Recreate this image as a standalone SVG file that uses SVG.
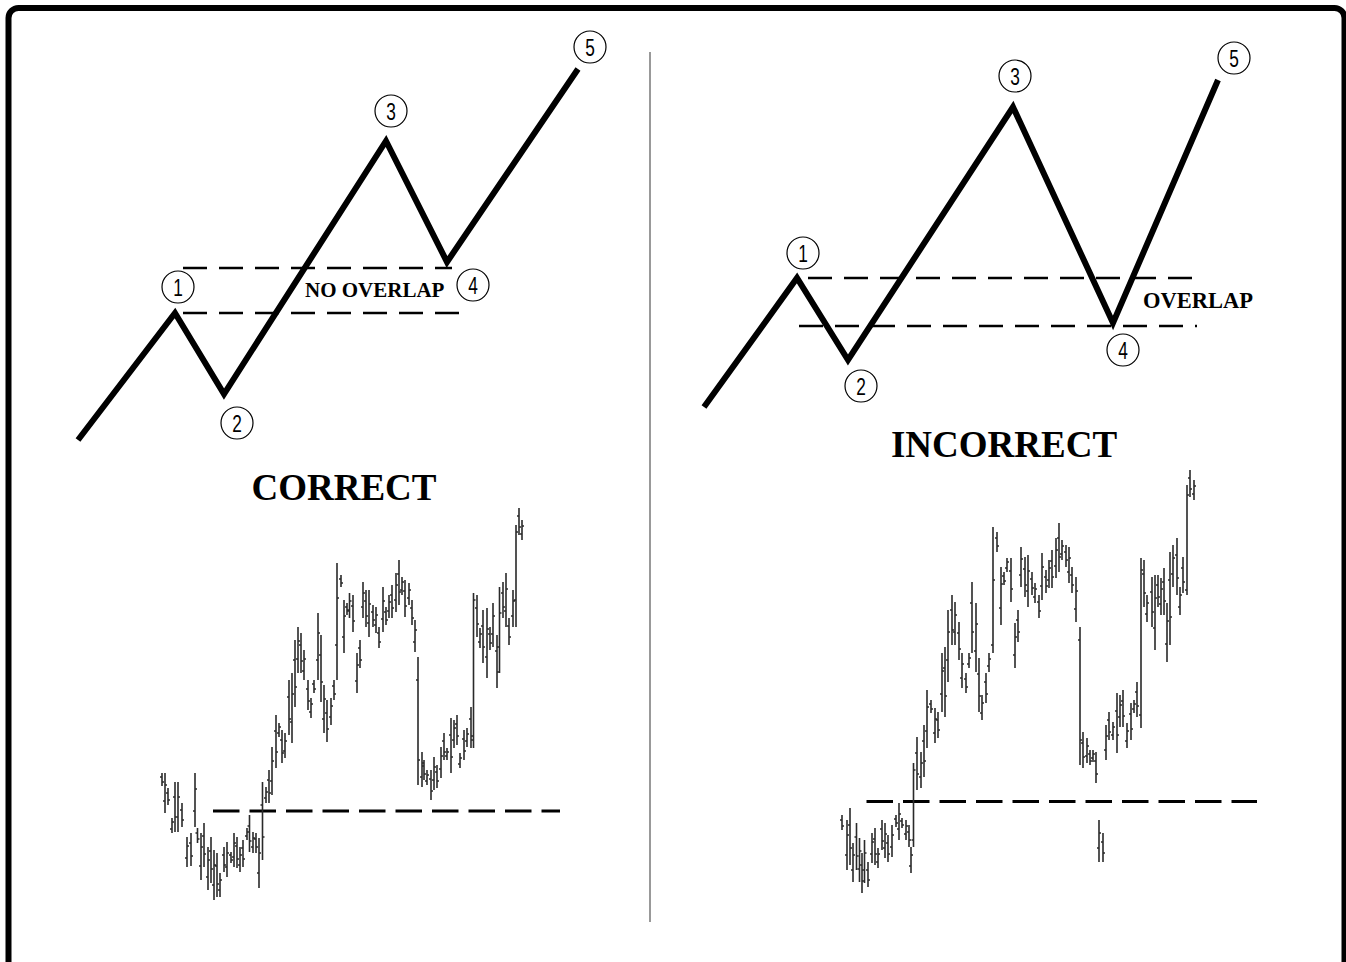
<svg xmlns="http://www.w3.org/2000/svg" width="1346" height="962" viewBox="0 0 1346 962">
<style>
.wave{fill:none;stroke:#000;stroke-width:6;stroke-linejoin:miter;stroke-linecap:butt}
.dash{fill:none;stroke:#000;stroke-width:2.5;stroke-dasharray:24 12}
.bdash{fill:none;stroke:#000;stroke-width:3.2;stroke-dasharray:26.5 10}
.circ{fill:#fff;stroke:#000;stroke-width:1.2}
.num{font-family:"Liberation Sans Narrow","Liberation Sans",sans-serif;font-size:24px;text-anchor:middle;fill:#000}
.lab{font-family:"Liberation Serif","Times New Roman",serif;font-weight:bold;fill:#000}
.bars{fill:none;stroke:#2a2a2a;stroke-width:1.6}
</style>
<rect x="8.5" y="8" width="1336" height="1000" rx="10" ry="10" fill="#fff" stroke="#000" stroke-width="6"/>
<line x1="650" y1="52" x2="650" y2="922" stroke="#555" stroke-width="1.2"/>

<g id="left-wave">
<path class="dash" d="M183 268H452M183 313H460"/>
<polyline class="wave" points="78,440 175,313 224,394 386,141 447,262 578,69"/>
<text class="lab" x="305" y="297" font-size="21">NO OVERLAP</text>
<text class="lab" x="344" y="500" font-size="37" text-anchor="middle">CORRECT</text>
</g>
<g id="left-labels">
<g id="l1"><circle class="circ" cx="178" cy="287" r="16"/><text class="num" transform="translate(178 295.5) scale(0.72 1)">1</text></g>
<g id="l2"><circle class="circ" cx="237" cy="423" r="16"/><text class="num" transform="translate(237 431.5) scale(0.72 1)">2</text></g>
<g id="l3"><circle class="circ" cx="391" cy="111" r="16"/><text class="num" transform="translate(391 119.5) scale(0.72 1)">3</text></g>
<g id="l4"><circle class="circ" cx="473" cy="285" r="16"/><text class="num" transform="translate(473 293.5) scale(0.72 1)">4</text></g>
<g id="l5"><circle class="circ" cx="590" cy="47" r="16"/><text class="num" transform="translate(590 55.5) scale(0.72 1)">5</text></g>
</g>

<g id="right-wave">
<path class="dash" d="M808 278H1197M799 326H1197"/>
<polyline class="wave" points="704,407 797,278 848,360 1013,107 1113,323 1218,80"/>
<text class="lab" x="1143" y="308" font-size="22.5">OVERLAP</text>
<text class="lab" x="1004" y="457" font-size="37" text-anchor="middle">INCORRECT</text>
</g>
<g id="right-labels">
<g id="r1"><circle class="circ" cx="803" cy="253" r="16"/><text class="num" transform="translate(803 261.5) scale(0.72 1)">1</text></g>
<g id="r2"><circle class="circ" cx="861" cy="386" r="16"/><text class="num" transform="translate(861 394.5) scale(0.72 1)">2</text></g>
<g id="r3"><circle class="circ" cx="1015" cy="76" r="16"/><text class="num" transform="translate(1015 84.5) scale(0.72 1)">3</text></g>
<g id="r4"><circle class="circ" cx="1123" cy="350" r="16"/><text class="num" transform="translate(1123 358.5) scale(0.72 1)">4</text></g>
<g id="r5"><circle class="circ" cx="1234" cy="58" r="16"/><text class="num" transform="translate(1234 66.5) scale(0.72 1)">5</text></g>
</g>

<g id="left-chart">
<path class="bdash" d="M213 811H560"/>
<path class="bars" d="M162 773V786M160 777h2M162 782h2
M165 773V813M163 801h2M165 785h2
M168 788V805M166 793h2M168 800h2
M172 818V833M170 829h2M172 822h2
M175 782V832M173 797h2M175 817h2
M178 782V832M176 817h2M178 797h2
M182 803V827M180 810h2M182 820h2
M187 837V867M185 858h2M187 846h2
M191 833V866M189 843h2M191 856h2
M195 773V827M193 811h2M195 789h2
M197.5 828V843M195.5 833h2M197.5 839h2
M201 833V880M199 866h2M201 847h2
M204 823V867M202 836h2M204 854h2
M208 847V890M206 877h2M208 860h2
M211 837V883M209 851h2M211 869h2
M214 850V900M212 885h2M214 865h2
M217 853V897M215 866h2M217 884h2
M220 873V897M218 890h2M220 880h2
M224 847V872M222 855h2M224 865h2
M227 842V877M225 867h2M227 853h2
M231 852V863M229 855h2M231 860h2
M234 833V867M232 857h2M234 843h2
M237 837V868M235 846h2M237 859h2
M240 847V872M238 865h2M240 855h2
M243 840V867M241 848h2M243 859h2
M247 828V840M245 836h2M247 832h2
M249.5 815V852M247.5 826h2M249.5 841h2
M253 832V853M251 847h2M253 838h2
M256 833V853M254 839h2M256 847h2
M259 838V888M257 873h2M259 853h2
M262.5 782V860M260.5 805h2M262.5 837h2
M266 787V803M264 798h2M266 792h2
M269 770V803M267 780h2M269 793h2
M272 747V795M270 781h2M272 761h2
M276 715V768M274 731h2M276 752h2
M279 723V737M277 733h2M279 727h2
M282 730V763M280 740h2M282 753h2
M285 733V758M283 751h2M285 741h2
M289 680V735M287 697h2M289 719h2
M292 673V743M290 722h2M292 694h2
M295 640V707M293 660h2M295 687h2
M298 627V673M296 659h2M298 641h2
M301 633V673M299 645h2M301 661h2
M304 650V680M302 671h2M304 659h2
M308 680V710M306 689h2M308 701h2
M311 698V718M309 712h2M311 704h2
M314 680V693M312 684h2M314 689h2
M318 613V680M316 660h2M318 633h2
M321 635V702M319 655h2M321 682h2
M324 685V733M322 719h2M324 699h2
M327 700V742M325 713h2M327 729h2
M331 698V725M329 717h2M331 706h2
M334 680V700M332 686h2M334 694h2
M337 563V680M335 645h2M337 598h2
M341 575V587M339 579h2M341 583h2
M344 600V653M342 637h2M344 616h2
M347 603V615M345 607h2M347 611h2
M349.5 593V618M347.5 610h2M349.5 601h2
M353 595V632M351 606h2M353 621h2
M357 653V693M355 681h2M357 665h2
M360 640V668M358 648h2M360 660h2
M363 582V618M361 607h2M363 593h2
M366 590V627M364 601h2M366 616h2
M369 590V637M367 623h2M369 604h2
M373 605V627M371 612h2M373 620h2
M376 607V633M374 625h2M376 615h2
M379 627V648M377 633h2M379 642h2
M383 587V632M381 619h2M383 601h2
M386 607V625M384 612h2M386 620h2
M389 595V618M387 611h2M389 602h2
M392 585V618M390 595h2M392 608h2
M396 573V612M394 600h2M396 585h2
M399 560V605M397 574h2M399 592h2
M402 577V595M400 590h2M402 582h2
M405 580V617M403 591h2M405 606h2
M409 583V605M407 598h2M409 590h2
M412 600V625M410 608h2M412 618h2
M415 620V652M413 642h2M415 630h2
M418 657V785M416 680h2M418 760h2
M422 752V787M420 777h2M422 763h2
M424 760V780M422 766h2M424 774h2
M427 770V785M425 781h2M427 775h2
M431 770V800M429 779h2M431 791h2
M434 757V790M432 780h2M434 767h2
M437 765V788M435 772h2M437 781h2
M441 747V778M439 769h2M441 756h2
M444 733V760M442 741h2M444 752h2
M447 748V760M445 756h2M447 752h2
M451 718V773M449 735h2M451 757h2
M454 720V748M452 740h2M454 728h2
M457 715V745M455 724h2M457 736h2
M460 753V768M458 764h2M460 758h2
M464 730V760M462 739h2M464 751h2
M467 728V747M465 741h2M467 734h2
M471 707V748M469 719h2M471 736h2
M473.5 593V748M471.5 740h2M473.5 600h2
M477 595V637M475 608h2M477 624h2
M480 628V648M478 642h2M480 634h2
M483 610V663M481 626h2M483 647h2
M487 608V678M485 657h2M487 629h2
M490 627V650M488 634h2M490 643h2
M493 603V647M491 634h2M493 616h2
M497 635V688M495 651h2M497 672h2
M499.5 587V673M497.5 647h2M499.5 613h2
M503 582V618M501 593h2M503 607h2
M506 573V627M504 611h2M506 589h2
M509 618V645M507 626h2M509 637h2
M513 590V627M511 616h2M513 601h2
M516 525V627M514 600h2M516 532h2
M519 508V535M517 516h2M519 527h2
M522 520V540M520 534h2M522 526h2"/>
</g>

<g id="right-chart">
<path class="bdash" d="M866.5 801.5H1257"/>
<path class="bars" d="M842 815V830M840 820h2M842 826h2
M847 820V870M845 855h2M847 835h2
M850 808V865M848 825h2M850 848h2
M853 843V882M851 870h2M853 855h2
M856.5 823V870M854.5 837h2M856.5 856h2
M859.5 838V882M857.5 869h2M859.5 851h2
M862 853V893M860 865h2M862 881h2
M864.5 840V883M862.5 870h2M864.5 853h2
M868 862V887M866 870h2M868 880h2
M872 833V863M870 854h2M872 842h2
M875 828V865M873 839h2M875 854h2
M878 848V868M876 862h2M878 854h2
M882 820V850M880 829h2M882 841h2
M885 823V858M883 848h2M885 834h2
M888 835V862M886 843h2M888 854h2
M892 825V857M890 847h2M892 835h2
M896 815V827M894 819h2M896 823h2
M899 803V840M897 829h2M899 814h2
M902 818V828M900 821h2M902 825h2
M906 820V840M904 834h2M906 826h2
M909 825V847M907 832h2M909 840h2
M911 847V873M909 866h2M911 855h2
M913.5 763V847M911.5 840h2M913.5 770h2
M917 737V790M915 753h2M917 774h2
M921 752V788M919 777h2M921 763h2
M924 725V777M922 741h2M924 761h2
M927 690V748M925 731h2M927 707h2
M931 700V713M929 704h2M931 709h2
M935 708V743M933 733h2M935 719h2
M938 712V738M936 720h2M938 730h2
M942 653V712M940 694h2M942 671h2
M945 647V717M943 668h2M945 696h2
M948 610V682M946 660h2M948 632h2
M952 595V645M950 610h2M952 630h2
M955 602V645M953 632h2M955 615h2
M959 622V660M957 633h2M959 649h2
M962 653V688M960 678h2M962 664h2
M966 673V693M964 679h2M966 687h2
M969 653V668M967 664h2M969 658h2
M972 582V653M970 603h2M972 632h2
M976 603V672M974 651h2M976 624h2
M979 658V712M977 674h2M979 696h2
M982 695V720M980 713h2M982 703h2
M986 673V703M984 682h2M986 694h2
M989 653V672M987 666h2M989 659h2
M993 527V653M991 645h2M993 580h2
M997 532V552M995 538h2M997 546h2
M1001 567V625M999 608h2M1001 584h2
M1004 572V585M1002 576h2M1004 581h2
M1007 558V572M1005 568h2M1007 562h2
M1011 558V602M1009 571h2M1011 589h2
M1015 623V668M1013 655h2M1015 637h2
M1018 610V642M1016 620h2M1018 632h2
M1021 547V587M1019 575h2M1021 559h2
M1025 557V597M1023 569h2M1025 585h2
M1028 555V607M1026 591h2M1028 571h2
M1032 572V595M1030 579h2M1032 588h2
M1035 583V603M1033 597h2M1035 589h2
M1039 595V618M1037 602h2M1039 611h2
M1042 553V600M1040 586h2M1042 567h2
M1046 570V593M1044 577h2M1046 586h2
M1049 560V588M1047 580h2M1049 568h2
M1052 550V588M1050 561h2M1052 577h2
M1056 538V578M1054 566h2M1056 550h2
M1059 523V572M1057 538h2M1059 557h2
M1062 540V560M1060 554h2M1062 546h2
M1066 545V567M1064 552h2M1066 560h2
M1069 547V583M1067 572h2M1069 558h2
M1072 567V593M1070 575h2M1072 585h2
M1076 577V622M1074 609h2M1076 591h2
M1080 627V765M1078 640h2M1080 740h2
M1083 732V768M1081 743h2M1083 757h2
M1087 738V763M1085 756h2M1087 746h2
M1090 750V765M1088 754h2M1090 761h2
M1093 750V762M1091 758h2M1093 754h2
M1096 752V783M1094 761h2M1096 774h2
M1099 820V862M1097 848h2M1099 833h2
M1103 833V862M1101 842h2M1103 853h2
M1106 725V760M1104 750h2M1106 736h2
M1109 712V740M1107 720h2M1109 732h2
M1113 722V740M1111 735h2M1113 727h2
M1117 693V753M1115 711h2M1117 735h2
M1120 695V727M1118 717h2M1120 705h2
M1123 690V727M1121 701h2M1123 716h2
M1127 723V748M1125 741h2M1127 731h2
M1131 703V740M1129 714h2M1131 729h2
M1134 700V713M1132 709h2M1134 704h2
M1137 682V717M1135 692h2M1137 706h2
M1141 558V728M1139 715h2M1141 570h2
M1144 560V607M1142 574h2M1144 593h2
M1147 595V622M1145 614h2M1147 603h2
M1152 577V627M1150 592h2M1152 612h2
M1155 575V650M1153 628h2M1155 598h2
M1158 575V607M1156 585h2M1158 597h2
M1161 578V615M1159 604h2M1161 589h2
M1164 568V615M1162 582h2M1164 601h2
M1167 603V662M1165 644h2M1167 621h2
M1170 552V645M1168 580h2M1170 617h2
M1173 545V587M1171 574h2M1173 558h2
M1177 538V595M1175 555h2M1177 578h2
M1180 587V615M1178 607h2M1180 595h2
M1183 557V593M1181 568h2M1183 582h2
M1187 485V595M1185 590h2M1187 495h2
M1190 470V497M1188 478h2M1190 489h2
M1194 480V500M1192 494h2M1194 486h2"/>
</g>
</svg>
